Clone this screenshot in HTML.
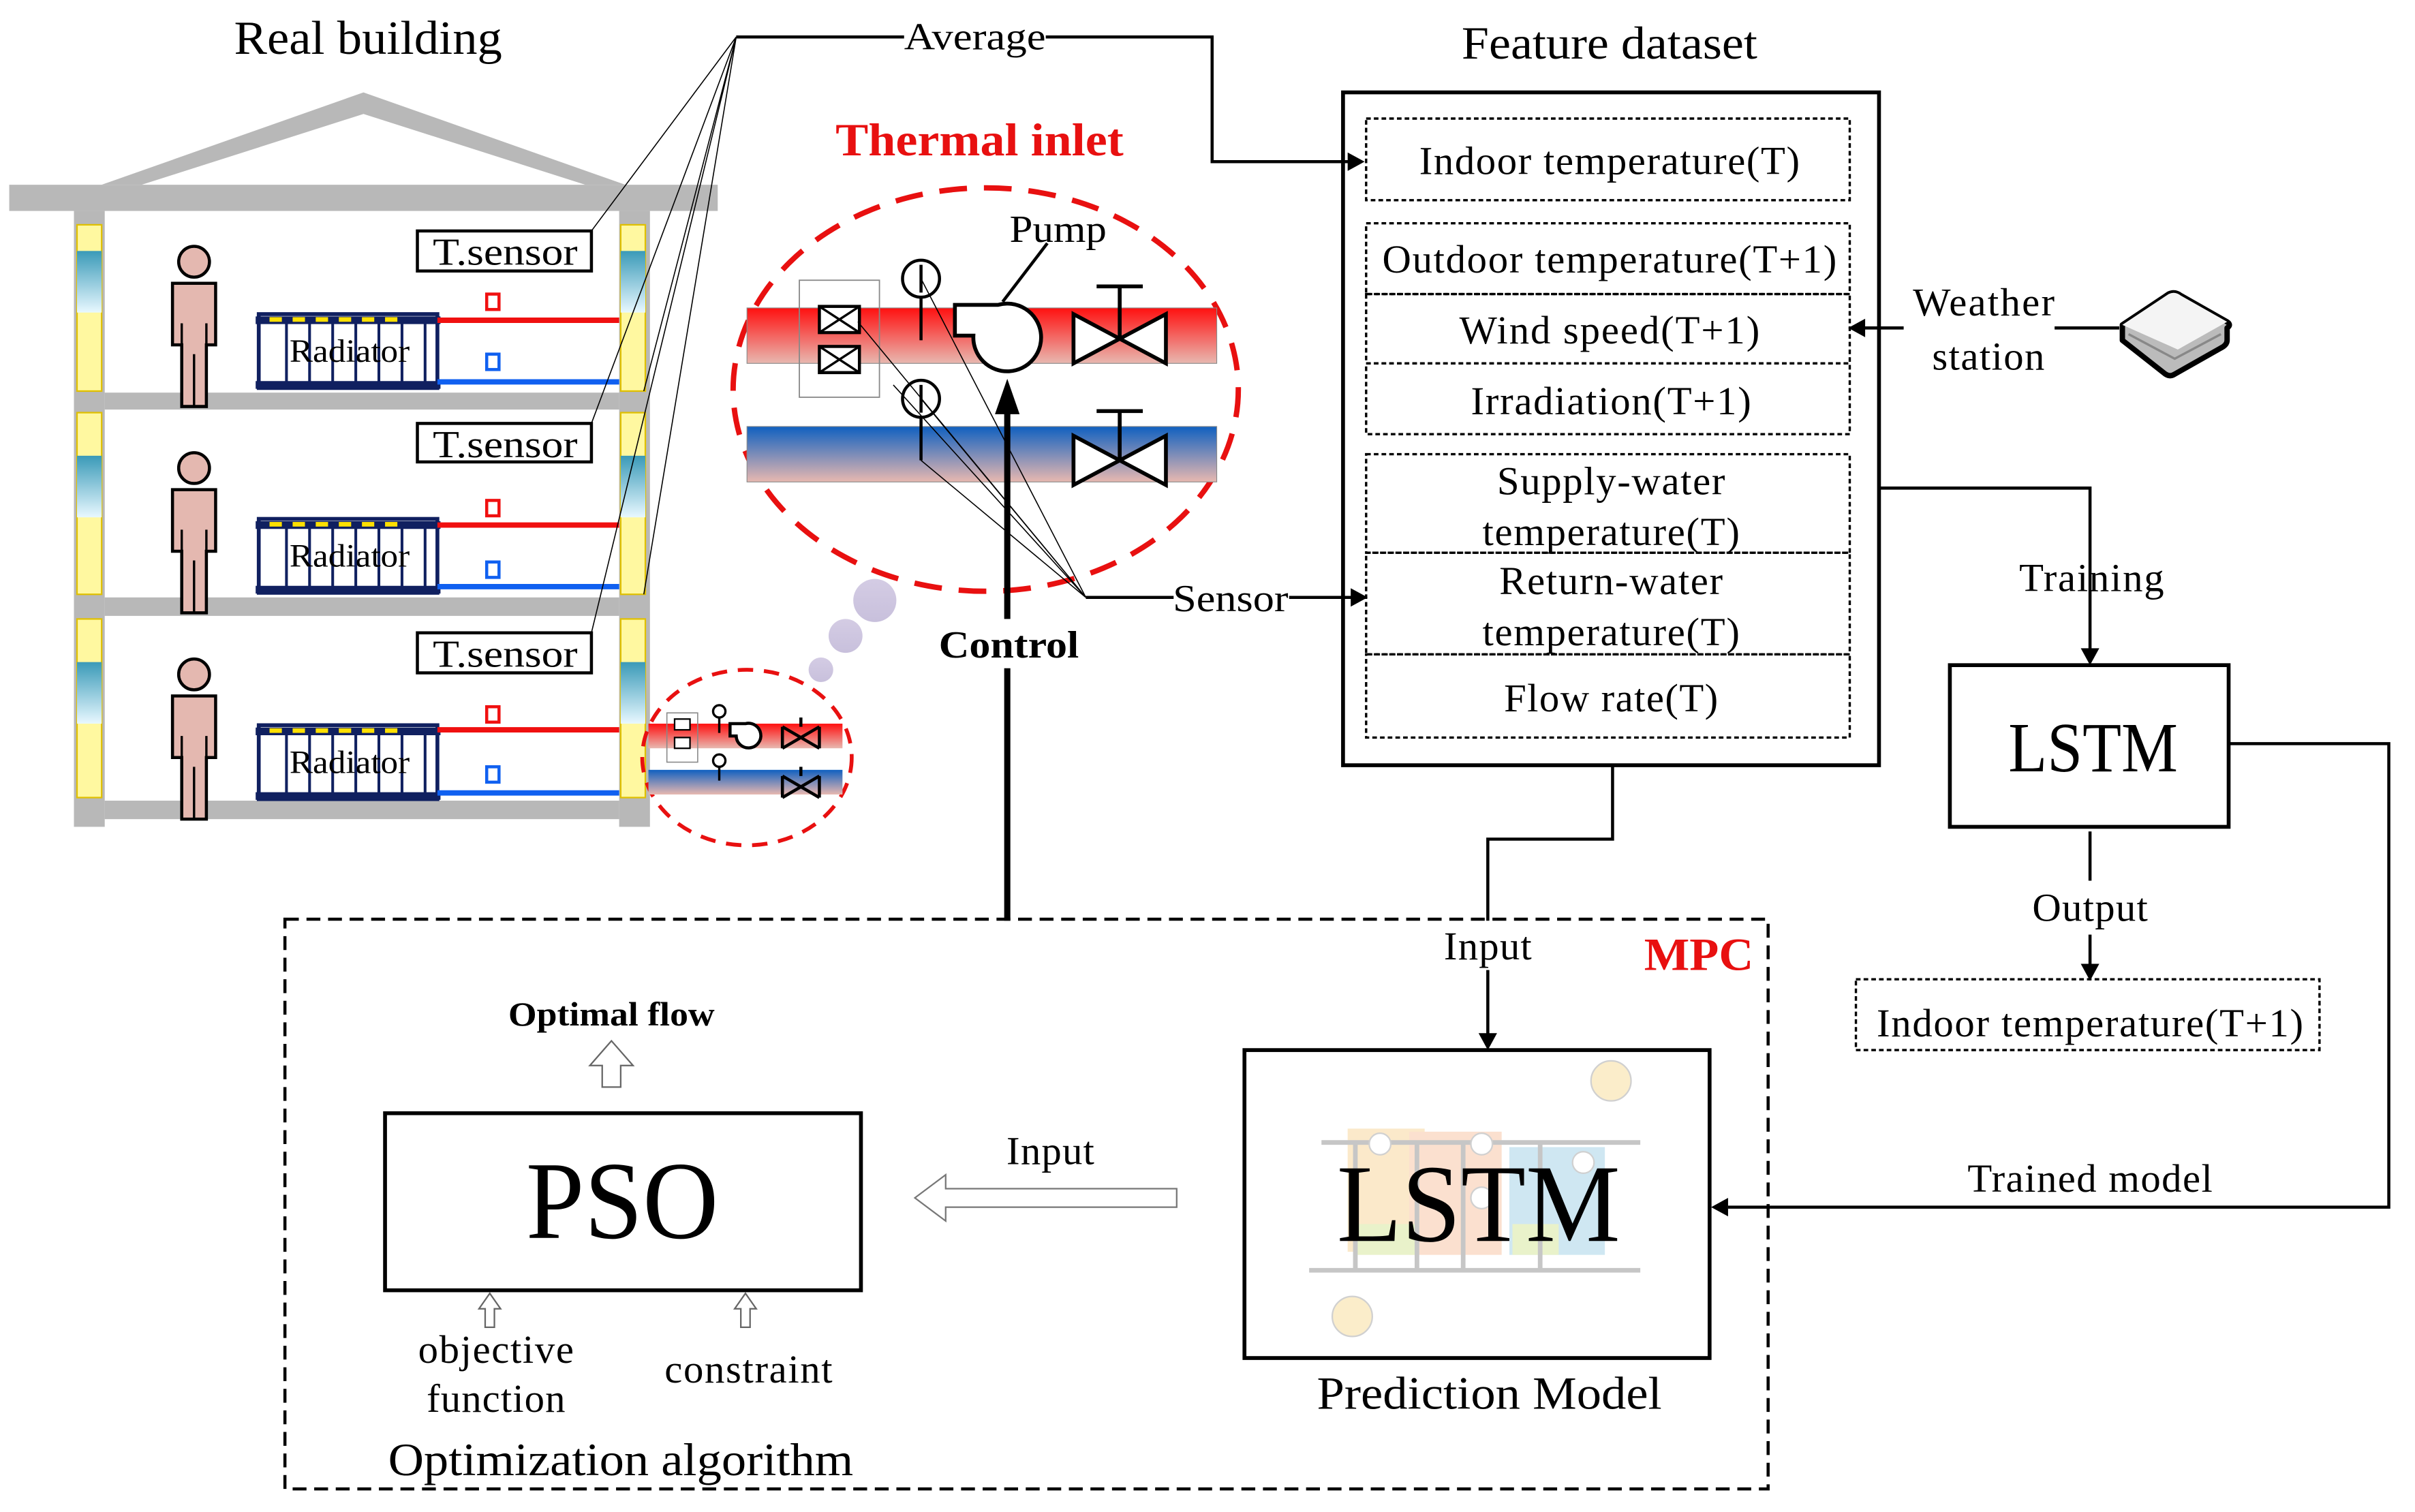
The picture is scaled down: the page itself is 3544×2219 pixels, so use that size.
<!DOCTYPE html>
<html><head><meta charset="utf-8"><style>html,body{margin:0;padding:0;background:#fff}svg{display:block}text{font-family:"Liberation Serif",serif}</style></head><body>
<svg width="3544" height="2219" viewBox="0 0 1568 982" preserveAspectRatio="none" xmlns="http://www.w3.org/2000/svg">
<defs>
<linearGradient id="red" x1="0" y1="0" x2="0" y2="1"><stop offset="0" stop-color="#ff1010"/><stop offset="1" stop-color="#e8b8b0"/></linearGradient>
<linearGradient id="blue" x1="0" y1="0" x2="0" y2="1"><stop offset="0" stop-color="#1060c0"/><stop offset="1" stop-color="#e8b8b0"/></linearGradient>
<linearGradient id="glass" x1="0" y1="0" x2="0" y2="1"><stop offset="0" stop-color="#3a9ab8"/><stop offset="1" stop-color="#e8f8ff"/></linearGradient>
<linearGradient id="bubble" x1="0" y1="0" x2="0" y2="1"><stop offset="0" stop-color="#d4cce4"/><stop offset="1" stop-color="#c8c0dc"/></linearGradient>
<g id="person"><circle cx="126" cy="0" r="10" fill="#e4b8b0" stroke="#000" stroke-width="2"/><path d="M112,14h28v40h-6v40h-16v-40h-6z" fill="#e4b8b0" stroke="#000" stroke-width="2"/><path d="M126,60v34M118,40v14M134,40v14" stroke="#000" stroke-width="1.5"/></g>
<g id="rad"><rect x="168" y="0" width="116" height="48" fill="#fff" stroke="#102060" stroke-width="2.5"/><path d="M166,4h120M166,46h120" stroke="#102060" stroke-width="5"/><g fill="#ffe000"><rect x="175" y="2" width="8" height="3"/><rect x="190" y="2" width="8" height="3"/><rect x="205" y="2" width="8" height="3"/><rect x="220" y="2" width="8" height="3"/><rect x="235" y="2" width="8" height="3"/><rect x="250" y="2" width="8" height="3"/></g><path d="M186,4v42M201,4v42M216,4v42M231,4v42M246,4v42M261,4v42M276,4v42" stroke="#102060" stroke-width="1.8"/><text x="227" y="31" font-size="21" text-anchor="middle" textLength="78" lengthAdjust="spacingAndGlyphs">Radiator</text></g>
</defs>

<!-- building -->
<text x="239" y="35" font-size="31" text-anchor="middle" textLength="174" lengthAdjust="spacingAndGlyphs">Real building</text>
<path d="M66,120 L236,60 L406,120 L380,120 L236,74 L92,120z" fill="#b8b8b8"/>
<rect x="6" y="120" width="460" height="17" fill="#b8b8b8"/>
<rect x="48" y="137" width="20" height="400" fill="#b8b8b8"/>
<rect x="402" y="137" width="20" height="400" fill="#b8b8b8"/>
<rect x="68" y="255" width="334" height="11" fill="#b8b8b8"/>
<rect x="68" y="388" width="334" height="12" fill="#b8b8b8"/>
<rect x="68" y="520" width="334" height="12" fill="#b8b8b8"/>
<g fill="#fff8a0" stroke="#e0c000" stroke-width="1">
<rect x="50" y="146" width="16" height="108"/><rect x="403" y="146" width="16" height="108"/>
<rect x="50" y="268" width="16" height="118"/><rect x="403" y="268" width="16" height="118"/>
<rect x="50" y="402" width="16" height="116"/><rect x="403" y="402" width="16" height="116"/>
</g>
<g fill="url(#glass)"><rect x="50" y="163" width="16" height="40"/><rect x="403" y="163" width="16" height="40"/><rect x="50" y="296" width="16" height="40"/><rect x="403" y="296" width="16" height="40"/><rect x="50" y="430" width="16" height="40"/><rect x="403" y="430" width="16" height="40"/></g>
<use href="#person" x="0" y="170"/><use href="#person" x="0" y="304"/><use href="#person" x="0" y="438"/>
<use href="#rad" x="0" y="204"/><use href="#rad" x="0" y="337"/><use href="#rad" x="0" y="471"/>
<g stroke-width="3.5">
<path d="M284,208H402M284,341H402M284,474H402" stroke="#f01010"/>
<path d="M284,248H402M284,381H402M284,515H402" stroke="#1060f0"/>
</g>
<g fill="none" stroke-width="2"><rect x="316" y="191" width="8" height="10" stroke="#f01010"/><rect x="316" y="325" width="8" height="10" stroke="#f01010"/><rect x="316" y="459" width="8" height="10" stroke="#f01010"/><rect x="316" y="230" width="8" height="10" stroke="#1060f0"/><rect x="316" y="365" width="8" height="10" stroke="#1060f0"/><rect x="316" y="498" width="8" height="10" stroke="#1060f0"/></g>
<g fill="#fff" stroke="#000" stroke-width="2"><rect x="271" y="150" width="113" height="26"/><rect x="271" y="275" width="113" height="25"/><rect x="271" y="411" width="113" height="26"/></g>
<g font-size="25" text-anchor="middle"><text x="328" y="172" textLength="94" lengthAdjust="spacingAndGlyphs">T.sensor</text><text x="328" y="297" textLength="94" lengthAdjust="spacingAndGlyphs">T.sensor</text><text x="328" y="433" textLength="94" lengthAdjust="spacingAndGlyphs">T.sensor</text></g>
<g stroke="#000" stroke-width="0.7" fill="none"><path d="M384,150L478,24M384,275L478,24M384,411L478,24M418,254L478,24M418,386L478,24"/></g>
<path d="M478,24H587M679,24H787V105H876" stroke="#000" stroke-width="2" fill="none"/>
<path d="M886,105l-11,-6v12z" fill="#000"/>
<text x="633" y="32" font-size="25" text-anchor="middle" textLength="92" lengthAdjust="spacingAndGlyphs">Average</text>

<!-- small thermal inlet -->
<ellipse cx="485" cy="492" rx="68" ry="57" fill="none" stroke="#e81010" stroke-width="2.5" stroke-dasharray="10,7"/>
<rect x="421" y="470" width="126" height="16" fill="url(#red)"/>
<rect x="421" y="500" width="126" height="16" fill="url(#blue)"/>
<rect x="433" y="463" width="20" height="32" fill="none" stroke="#888" stroke-width="0.7"/>
<rect x="438" y="467" width="10" height="7" fill="#fff" stroke="#000"/><rect x="438" y="479" width="10" height="7" fill="#fff" stroke="#000"/>
<path d="M467,460v16M467,493v14" stroke="#000" stroke-width="1.5"/><circle cx="467" cy="462" r="4" fill="#fff" stroke="#000" stroke-width="1.5"/><circle cx="467" cy="494" r="4" fill="#fff" stroke="#000" stroke-width="1.5"/>
<path d="M474,470h10a8,8 0 1 1 -6,8h-4z" fill="#fff" stroke="#000" stroke-width="2"/>
<path d="M508,472l24,14M532,472l-24,14M508,472v14M532,472v14M520,466v6M508,504l24,14M532,504l-24,14M508,504v14M532,504v14M520,498v6" stroke="#000" stroke-width="2"/>
<circle cx="533" cy="435" r="8" fill="url(#bubble)"/><circle cx="549" cy="413" r="11" fill="url(#bubble)"/><circle cx="568" cy="390" r="14" fill="url(#bubble)"/>

<!-- big thermal inlet -->
<text x="636" y="101" font-size="30" font-weight="bold" fill="#e81010" text-anchor="middle" textLength="187" lengthAdjust="spacingAndGlyphs">Thermal inlet</text>
<ellipse cx="640" cy="253" rx="164" ry="131" fill="none" stroke="#e81010" stroke-width="3.5" stroke-dasharray="18,11"/>
<rect x="485" y="200" width="305" height="36" fill="url(#red)" stroke="#888" stroke-width="0.5"/>
<rect x="485" y="277" width="305" height="36" fill="url(#blue)" stroke="#888" stroke-width="0.5"/>
<rect x="519" y="182" width="52" height="76" fill="none" stroke="#888" stroke-width="0.8"/>
<g fill="#fff" stroke="#000" stroke-width="2"><rect x="532" y="199" width="26" height="17"/><rect x="532" y="225" width="26" height="17"/></g>
<path d="M532,199l26,17M558,199l-26,17M532,225l26,17M558,225l-26,17" stroke="#000" stroke-width="1.5"/>
<circle cx="598" cy="181" r="12" fill="#fff" stroke="#000" stroke-width="2"/><path d="M598,172v18M598,193v28" stroke="#000" stroke-width="2"/>
<circle cx="598" cy="259" r="12" fill="#fff" stroke="#000" stroke-width="2"/><path d="M598,250v18M598,271v28" stroke="#000" stroke-width="2"/>
<path d="M620,198h28a22,22 0 1 1 -16,20h-12z" fill="#fff" stroke="#000" stroke-width="2.5"/>
<path d="M651,196L680,158" stroke="#000" stroke-width="2"/>
<text x="687" y="157" font-size="25" text-anchor="middle" textLength="63" lengthAdjust="spacingAndGlyphs">Pump</text>
<g fill="#fff" stroke="#000" stroke-width="2.5"><path d="M697,204l60,32v-32l-60,32z"/><path d="M697,283l60,32v-32l-60,32z"/></g>
<path d="M727,220v-34M712,186h30M727,299v-32M712,267h30" stroke="#000" stroke-width="2.5"/>
<path d="M654,598V265" stroke="#000" stroke-width="4"/>
<path d="M654,246l-8,23h16z" fill="#000"/>
<rect x="604" y="402" width="100" height="32" fill="#fff"/>
<text x="655" y="427" font-size="25" font-weight="bold" text-anchor="middle" textLength="91" lengthAdjust="spacingAndGlyphs">Control</text>
<g stroke="#000" stroke-width="0.7"><path d="M557,209L705,388M598,181L705,388M598,259L705,388M598,299L705,388M580,250L705,388"/></g>
<path d="M705,388H762M837,388H878" stroke="#000" stroke-width="2" fill="none"/>
<path d="M888,388l-11,-6v12z" fill="#000"/>
<text x="799" y="397" font-size="25" text-anchor="middle" textLength="75" lengthAdjust="spacingAndGlyphs">Sensor</text>

<!-- feature dataset -->
<text x="1045" y="38" font-size="30" text-anchor="middle" textLength="192" lengthAdjust="spacingAndGlyphs">Feature dataset</text>
<rect x="872" y="60" width="348" height="437" fill="none" stroke="#000" stroke-width="2.5"/>
<g fill="none" stroke="#000" stroke-width="1.5" stroke-dasharray="3,2">
<rect x="887" y="77" width="314" height="53"/>
<rect x="887" y="145" width="314" height="46"/><rect x="887" y="191" width="314" height="45"/><rect x="887" y="236" width="314" height="46"/>
<rect x="887" y="295" width="314" height="64"/><rect x="887" y="359" width="314" height="66"/><rect x="887" y="425" width="314" height="54"/>
</g>
<g font-size="26" text-anchor="middle" lengthAdjust="spacingAndGlyphs">
<text x="1045" y="113" textLength="247">Indoor temperature(T)</text>
<text x="1045" y="177" textLength="295">Outdoor temperature(T+1)</text>
<text x="1045" y="223" textLength="195">Wind speed(T+1)</text>
<text x="1046" y="269" textLength="182">Irradiation(T+1)</text>
<text x="1046" y="321" textLength="148">Supply-water</text><text x="1046" y="354" textLength="167">temperature(T)</text>
<text x="1046" y="386" textLength="145">Return-water</text><text x="1046" y="419" textLength="167">temperature(T)</text>
<text x="1046" y="462" textLength="139">Flow rate(T)</text>
<text x="1288" y="205" textLength="92">Weather</text><text x="1291" y="240" textLength="73">station</text>
<text x="1358" y="384" textLength="94">Training</text>
<text x="1357" y="598" textLength="75">Output</text>
<text x="1357" y="673" textLength="277">Indoor temperature(T+1)</text>
<text x="1357" y="774" textLength="159">Trained model</text>
<text x="966" y="623" textLength="57">Input</text>
<text x="682" y="756" textLength="57">Input</text>
</g>
<path d="M1236,213H1210" stroke="#000" stroke-width="2"/><path d="M1200,213l11,-6v12z" fill="#000"/>
<path d="M1334,213H1376" stroke="#000" stroke-width="2"/>
<g transform="translate(1412,213)"><path d="M-34,-2L-4,-22Q0,-24 4,-21L34,-4Q37,-2 34,0L34,8Q34,11 30,13L0,30Q-3,32 -6,30L-34,8z" fill="#bbb" stroke="#000" stroke-width="3.5" stroke-linejoin="round"/><path d="M-34,-2L-4,-22Q0,-24 4,-21L34,-4L2,14Z" fill="#f4f4f4"/><path d="M-30,4L0,20L30,4" stroke="#888" stroke-width="1.5" fill="none"/></g>
<path d="M1220,317H1357V422" stroke="#000" stroke-width="2" fill="none"/><path d="M1357,432l-6,-11h12z" fill="#000"/>
<rect x="1266" y="432" width="181" height="105" fill="#fff" stroke="#000" stroke-width="2.5"/>
<text x="1359" y="501" font-size="46" text-anchor="middle" textLength="110" lengthAdjust="spacingAndGlyphs">LSTM</text>
<path d="M1357,540V572M1357,607V627" stroke="#000" stroke-width="2" fill="none"/><path d="M1357,637l-6,-11h12z" fill="#000"/>
<rect x="1205" y="636" width="301" height="46" fill="none" stroke="#000" stroke-width="1.5" stroke-dasharray="3,2"/>
<path d="M1447,483H1551V784H1122" stroke="#000" stroke-width="2" fill="none"/><path d="M1111,784l11,-6v12z" fill="#000"/>

<!-- MPC -->
<rect x="185" y="597" width="963" height="370" fill="none" stroke="#000" stroke-width="2" stroke-dasharray="9,5"/>
<text x="1103" y="630" font-size="30" font-weight="bold" fill="#e81010" text-anchor="middle" textLength="71" lengthAdjust="spacingAndGlyphs">MPC</text>
<path d="M1047,497V545H966V598M966,630V672" stroke="#000" stroke-width="2" fill="none"/><path d="M966,682l-6,-11h12z" fill="#000"/>
<rect x="808" y="682" width="302" height="200" fill="#fff" stroke="#000" stroke-width="2.5"/>
<g opacity="0.55"><rect x="875" y="733" width="50" height="80" fill="#f8d8a0"/><rect x="915" y="735" width="60" height="80" fill="#f8c8a8"/><rect x="980" y="745" width="62" height="70" fill="#a8d4e8"/><rect x="880" y="795" width="40" height="20" fill="#d8e8a0"/><rect x="982" y="795" width="30" height="20" fill="#d8e8a0"/>
<path d="M858,742H1065M850,825H1065M880,742V825M920,742V825M950,742V825M1000,742V825" stroke="#999" stroke-width="3"/>
<circle cx="1046" cy="702" r="13" fill="#f8e0a0" stroke="#aaa"/><circle cx="878" cy="855" r="13" fill="#f8e0a0" stroke="#aaa"/><circle cx="896" cy="743" r="7" fill="#fff" stroke="#aaa"/><circle cx="962" cy="743" r="7" fill="#fff" stroke="#aaa"/><circle cx="962" cy="778" r="7" fill="#fff" stroke="#aaa"/><circle cx="1028" cy="755" r="7" fill="#fff" stroke="#aaa"/></g>
<text x="960" y="806" font-size="72" text-anchor="middle" textLength="184" lengthAdjust="spacingAndGlyphs">LSTM</text>
<text x="967" y="915" font-size="30" text-anchor="middle" textLength="224" lengthAdjust="spacingAndGlyphs">Prediction Model</text>
<path d="M764,772H614v-9l-20,15 20,15v-9h150z" fill="#fff" stroke="#777" stroke-width="1"/>
<rect x="250" y="723" width="309" height="115" fill="#fff" stroke="#000" stroke-width="2.5"/>
<text x="404" y="804" font-size="72" text-anchor="middle" textLength="125" lengthAdjust="spacingAndGlyphs">PSO</text>
<path d="M391,706v-14h-8l14,-16 14,16h-8v14z" fill="#fff" stroke="#666" stroke-width="1"/>
<text x="397" y="666" font-size="22" font-weight="bold" text-anchor="middle" textLength="134" lengthAdjust="spacingAndGlyphs">Optimal flow</text>
<path d="M315,862v-12h-4l7,-10 7,10h-4v12zM481,862v-12h-4l7,-10 7,10h-4v12z" fill="#fff" stroke="#666" stroke-width="1"/>
<g font-size="26" text-anchor="middle" lengthAdjust="spacingAndGlyphs"><text x="322" y="885" textLength="101">objective</text><text x="322" y="917" textLength="90">function</text><text x="486" y="898" textLength="109">constraint</text></g>
<text x="403" y="958" font-size="30" text-anchor="middle" textLength="302" lengthAdjust="spacingAndGlyphs">Optimization algorithm</text>
</svg>
</body></html>
